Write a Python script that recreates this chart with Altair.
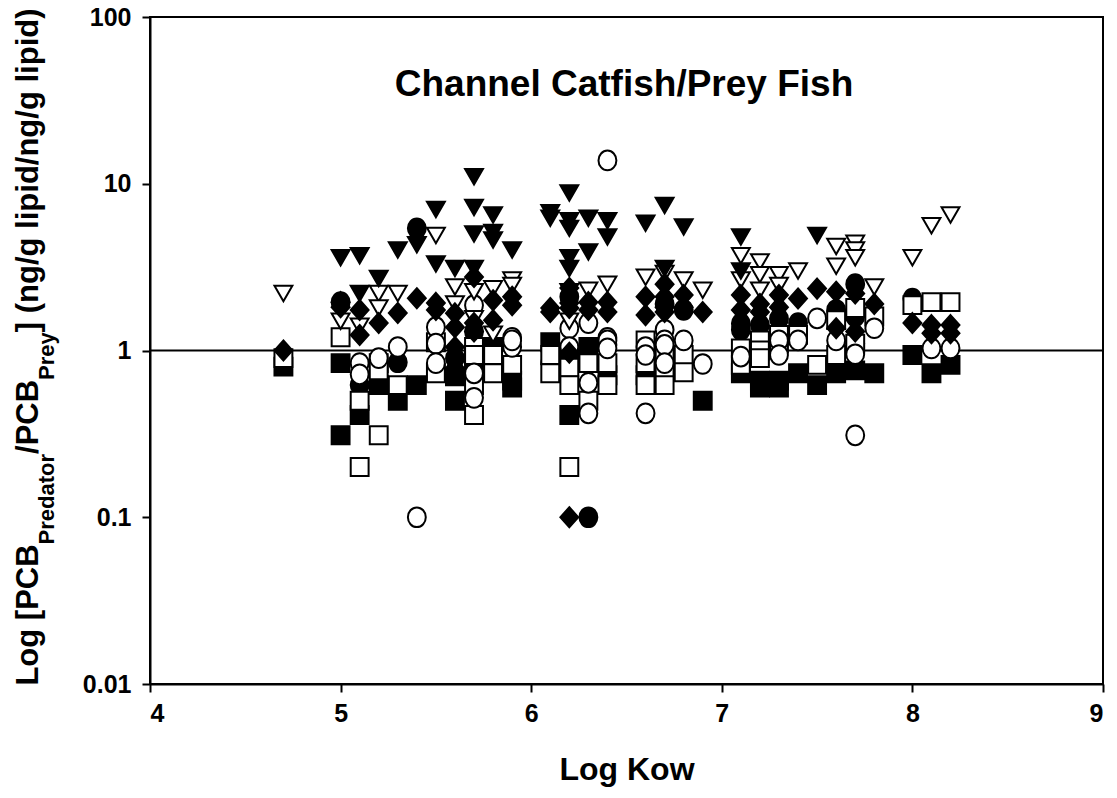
import altair as alt
import pandas as pd

# ---------------- data ----------------
ftri_x = [5.0, 5.1, 5.1, 5.2, 5.3, 5.4, 5.5, 5.5, 5.6, 5.7, 5.7, 5.7, 5.7, 5.8, 5.8, 5.8, 5.9,
          6.1, 6.1, 6.2, 6.2, 6.2, 6.2, 6.2, 6.3, 6.3, 6.4, 6.4, 6.6, 6.7, 6.7, 6.8, 7.1, 7.1, 7.5]
ftri_y = [3.6, 3.7, 2.2, 2.7, 4.0, 4.3, 7.0, 3.3, 3.1, 11.0, 7.2, 5.0, 3.1, 6.5, 5.1, 4.6, 4.0,
          6.7, 6.2, 8.8, 6.0, 5.4, 3.6, 3.1, 6.2, 3.9, 6.0, 4.8, 5.8, 7.4, 3.1, 5.5, 4.8, 3.0, 4.9]

otri_x = [4.7, 5.0, 5.1, 5.2, 5.2, 5.3, 5.5, 5.6, 5.6, 5.7, 5.7, 5.8, 5.8, 5.9, 5.9, 6.2, 6.2,
          6.3, 6.4, 6.6, 6.7, 6.8, 6.9, 7.1, 7.1, 7.2, 7.2, 7.2, 7.3, 7.3, 7.4, 7.6, 7.6,
          7.7, 7.7, 7.7, 7.8, 8.0, 8.1, 8.2]
otri_y = [2.2, 1.5, 1.4, 2.2, 1.8, 2.2, 4.9, 2.4, 1.9, 2.25, 1.55, 2.35, 1.25, 2.65, 2.45, 2.25, 1.5,
          2.3, 2.5, 2.75, 2.9, 2.65, 2.3, 3.7, 2.65, 3.4, 2.85, 2.3, 2.85, 2.45, 3.0, 4.2, 3.2,
          4.4, 4.0, 3.6, 2.4, 3.6, 5.6, 6.5]

dia_x = [4.7, 5.0, 5.0, 5.1, 5.1, 5.2, 5.3, 5.4, 5.5, 5.5, 5.6, 5.6, 5.6, 5.7, 5.7, 5.7, 5.8, 5.8,
         5.9, 5.9, 6.1, 6.1, 6.2, 6.2, 6.2, 6.2, 6.2, 6.3, 6.3, 6.4, 6.4, 6.6, 6.6, 6.7, 6.7, 6.7,
         6.7, 6.8, 6.8, 6.9, 7.1, 7.1, 7.2, 7.2, 7.3, 7.3, 7.4, 7.5, 7.6, 7.6, 7.7, 7.7, 7.8,
         8.0, 8.1, 8.1, 8.2, 8.2]
dia_y = [1.0, 1.95, 1.82, 1.75, 1.24, 1.46, 1.68, 2.06, 1.93, 1.75, 1.67, 1.38, 1.05, 2.76, 1.46, 1.3,
         2.0, 1.52, 2.1, 1.87, 1.8, 1.7, 2.37, 1.93, 1.8, 0.97, 0.1, 1.95, 1.75, 1.95, 1.7, 2.1, 1.63,
         2.5, 2.1, 1.82, 1.7, 2.15, 1.82, 1.7, 2.15, 1.75, 1.9, 1.7, 2.15, 1.82, 2.05, 2.35, 2.25,
         1.36, 2.2, 1.3, 1.9, 1.46, 1.42, 1.27, 1.42, 1.27]

fcir_x = [5.0, 5.1, 5.3, 5.4, 5.6, 5.6, 5.7, 5.7, 6.1, 6.2, 6.2, 6.3, 6.7, 6.8, 7.1, 7.1, 7.2, 7.3,
          7.4, 7.6, 7.7, 7.7, 7.7, 8.0]
fcir_y = [1.95, 0.62, 0.85, 5.4, 0.9, 0.75, 1.3, 0.84, 0.85, 2.1, 0.88, 0.1, 1.9, 1.75, 1.45, 1.33,
          1.42, 1.55, 1.46, 1.75, 2.5, 1.6, 1.1, 2.05]

ocir_x = [5.1, 5.1, 5.2, 5.3, 5.4, 5.5, 5.5, 5.5, 5.7, 5.7, 5.7, 5.9, 5.9, 5.9, 6.2, 6.2, 6.3, 6.3,
          6.3, 6.4, 6.4, 6.4, 6.4, 6.4, 6.6, 6.6, 6.6, 6.7, 6.7, 6.7, 6.7, 6.8, 6.9, 7.1, 7.3, 7.3,
          7.4, 7.5, 7.6, 7.7, 7.7, 7.8, 8.1, 8.2]
ocir_y = [0.84, 0.72, 0.9, 1.05, 0.1, 1.38, 1.1, 0.84, 1.87, 0.73, 0.52, 1.19, 1.05, 1.15, 1.36, 1.05,
          1.46, 0.64, 0.42, 13.8, 1.19, 1.08, 1.15, 1.03, 1.05, 0.94, 0.42, 1.33, 1.15, 1.08, 0.84,
          1.15, 0.83, 0.92, 1.15, 0.94, 1.15, 1.56, 1.15, 0.95, 0.31, 1.36, 1.03, 1.03]

fsq_x = [4.7, 5.0, 5.0, 5.1, 5.2, 5.3, 5.4, 5.6, 5.6, 5.7, 5.8, 5.9, 5.9, 6.1, 6.2, 6.2, 6.3, 6.4,
         6.6, 6.9, 7.1, 7.2, 7.2, 7.3, 7.3, 7.4, 7.5, 7.6, 7.7, 7.8, 8.0, 8.1, 8.2]
fsq_y = [0.8, 0.84, 0.31, 0.41, 0.62, 0.5, 0.62, 0.5, 0.7, 0.84, 1.05, 0.66, 0.6, 1.12, 0.41, 0.9,
         1.05, 0.71, 0.71, 0.5, 0.73, 0.66, 0.6, 0.66, 0.6, 0.73, 0.62, 0.73, 0.76, 0.73, 0.94,
         0.73, 0.82]

osq_x = [4.7, 5.0, 5.1, 5.1, 5.2, 5.2, 5.2, 5.3, 5.5, 5.5, 5.7, 5.7, 5.7, 5.7, 5.8, 5.8, 5.9, 6.1,
         6.1, 6.2, 6.2, 6.2, 6.3, 6.3, 6.4, 6.4, 6.6, 6.6, 6.6, 6.7, 6.7, 6.7, 6.8, 6.8, 7.1, 7.1,
         7.2, 7.2, 7.2, 7.3, 7.3, 7.4, 7.5, 7.6, 7.6, 7.7, 7.7, 7.8, 8.0, 8.1, 8.2]
osq_y = [0.9, 1.2, 0.5, 0.2, 0.84, 0.76, 0.31, 0.62, 1.12, 0.73, 1.05, 0.94, 0.62, 0.41, 0.94, 0.73,
         0.82, 0.94, 0.73, 0.79, 0.62, 0.2, 0.84, 0.5, 0.84, 0.62, 1.15, 0.84, 0.62, 0.94, 0.76,
         0.62, 0.94, 0.74, 1.03, 0.82, 1.15, 1.0, 0.9, 1.24, 1.1, 1.24, 0.82, 1.52, 0.94, 1.8, 1.1,
         1.6, 1.87, 1.95, 1.95]

# draw order: bottom -> top
series = [
    ("Series 4", fcir_x, fcir_y),
    ("Series 6", fsq_x, fsq_y),
    ("Series 7", osq_x, osq_y),
    ("Series 5", ocir_x, ocir_y),
    ("Series 2", otri_x, otri_y),
    ("Series 1", ftri_x, ftri_y),
    ("Series 3", dia_x, dia_y),
]
names = ["Series 1", "Series 2", "Series 3", "Series 4", "Series 5", "Series 6", "Series 7"]
DIAMOND = "M0,-1.12L1,0L0,1.12L-1,0Z"
OVAL = "M0,-1.1A1,1.1 0 1,1 0,1.1A1,1.1 0 1,1 0,-1.1Z"
shapes = ["triangle-down", "triangle-down", DIAMOND, OVAL, OVAL, "square", "square"]
fills = ["black", "white", "black", "black", "white", "black", "white"]
sizes = [320, 320, 420, 230, 230, 240, 240]

rows = []
for name, xs, ys in series:
    for xv, yv in zip(xs, ys):
        rows.append({"kow": xv, "ratio": yv, "series": name})
df = pd.DataFrame(rows)

FONT = "Liberation Sans"
one = pd.DataFrame({"k": [0]})

x_scale = alt.Scale(domain=[4, 9], nice=False, zero=False)
y_scale = alt.Scale(type="log", domain=[0.01, 100], nice=False)

points = alt.Chart(df).mark_point(
    filled=True, stroke="black", strokeWidth=2, opacity=1, fillOpacity=1
).encode(
    x=alt.X("kow:Q", scale=x_scale,
            axis=alt.Axis(values=[4, 5, 6, 7, 8, 9], format="d", title="Log Kow",
                          titleFontSize=32, titlePadding=28, labelPadding=9)),
    y=alt.Y("ratio:Q", scale=y_scale,
            axis=alt.Axis(values=[0.01, 0.1, 1, 10, 100], format="~g", title=None,
                          labelPadding=11)),
    shape=alt.Shape("series:N", scale=alt.Scale(domain=names, range=shapes), legend=None),
    fill=alt.Fill("series:N", scale=alt.Scale(domain=names, range=fills), legend=None),
    size=alt.Size("series:N", scale=alt.Scale(domain=names, range=sizes), legend=None),
)

ref_rule = alt.Chart(one).mark_rule(color="black", strokeWidth=2).encode(y=alt.datum(1))

title_txt = alt.Chart(one).mark_text(
    text="Channel Catfish/Prey Fish", font=FONT, fontSize=37, fontWeight="bold",
    align="center", baseline="middle", color="black"
).encode(x=alt.value(474), y=alt.value(68))

# y axis title with subscripts, built from pieces
AW = {'L': 611, 'o': 611, 'g': 611, ' ': 278, '[': 333, 'P': 667, 'C': 722, 'B': 722, 'r': 389,
      'e': 556, 'd': 611, 'a': 556, 't': 333, '/': 278, 'y': 556, ']': 333, '(': 333, ')': 333,
      'n': 611, 'l': 278, 'i': 278, 'p': 611}


def tw(s, fs):
    return sum(AW[c] for c in s) * fs / 1000.0


MAIN, SUB = 31, 22
pieces = [("Log [PCB", MAIN, -112), ("Predator", SUB, -96), ("/PCB", MAIN, -112),
          ("Prey", SUB, -96), ("] (ng/g lipid/ng/g lipid)", MAIN, -112)]
total = sum(tw(s, f) for s, f, _ in pieces)
cur = 330 + total / 2
ytitle_layers = []
for s, f, xb in pieces:
    ytitle_layers.append(
        alt.Chart(one).mark_text(
            text=s, font=FONT, fontSize=f, fontWeight="bold", angle=270,
            align="left", baseline="alphabetic", color="black"
        ).encode(x=alt.value(xb), y=alt.value(cur))
    )
    cur -= tw(s, f)

chart = alt.layer(ref_rule, points, title_txt, *ytitle_layers).properties(
    width=953, height=667,
    autosize=alt.AutoSizeParams(type="none"),
    padding={"left": 142, "top": 9, "right": 6, "bottom": 106},
).configure_view(
    stroke="black", strokeWidth=2
).configure_axis(
    grid=False, domainColor="black", domainWidth=2, tickColor="black", tickWidth=2,
    tickSize=8, labelFont=FONT, labelFontSize=25, labelFontWeight="bold", labelColor="black",
    titleFont=FONT, titleFontWeight="bold", titleColor="black"
)

chart.save("out.html", embed_options={"renderer": "svg", "actions": False})
